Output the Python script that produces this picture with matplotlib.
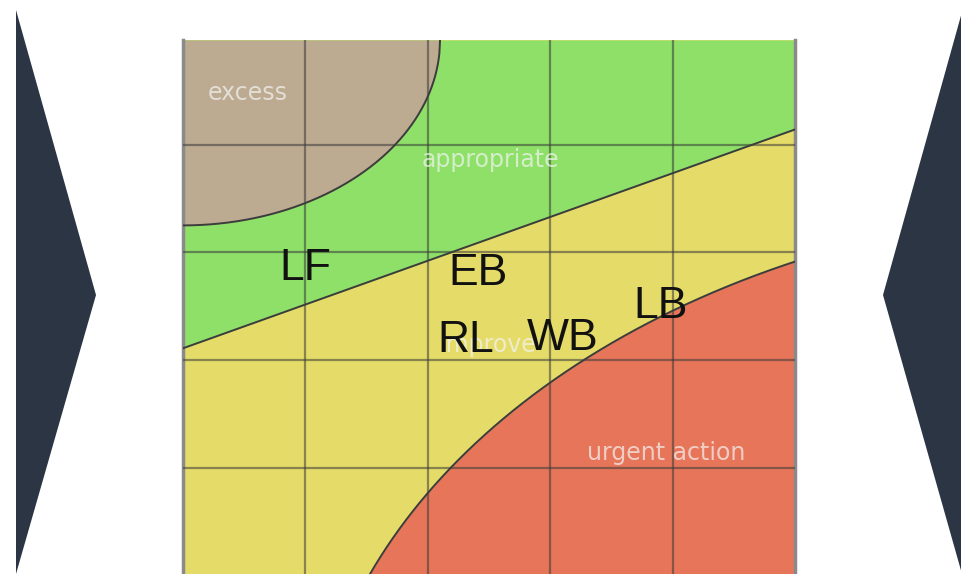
import numpy as np
import matplotlib
matplotlib.use("Agg")
import matplotlib.pyplot as plt
from matplotlib.patches import Polygon

# ---- data ----
grid_ticks = [1, 2, 3, 4]
# green/yellow boundary: straight line (x, y)
line_x = [0.0, 5.0]
line_y = [2.11, 4.14]
# brown "excess" region: quarter ellipse (centre, semi-axes)
excess_center = (0.0, 4.97)
excess_axes = (2.10, 1.72)
# red "urgent action" region: ellipse arc (centre, semi-axes)
urgent_center = (8.0, -2.0)
urgent_axes = (6.967, 5.445)

zone_names = ["excess", "appropriate", "improve", "urgent action"]
zone_x = [0.53, 2.51, 2.49, 3.95]
zone_y = [4.48, 3.86, 2.14, 1.14]

labels = ["LF", "EB", "RL", "WB", "LB"]
label_x = [0.997, 2.41, 2.31, 3.10, 3.90]
label_y = [2.85, 2.80, 2.18, 2.20, 2.50]

# ---- styles ----
C_BROWN = "#BCAA91"
C_GREEN = "#8EE068"
C_YELLOW = "#E5DB68"
C_RED = "#E67559"
C_NAVY = "#2B3544"

W, H = 962, 574
fig = plt.figure(figsize=(W / 100, H / 100), dpi=100)
fig.patch.set_facecolor("white")

# decorative chevrons
left_chev = Polygon([(16 / W, 1 - 10 / H), (96 / W, 1 - 295 / H), (16 / W, 0)],
                    closed=True, transform=fig.transFigure, color=C_NAVY, lw=0)
right_chev = Polygon([(1, 1 - 12 / H), (883 / W, 1 - 295 / H), (1, 0)],
                     closed=True, transform=fig.transFigure, color=C_NAVY, lw=0)
fig.patches.extend([left_chev, right_chev])

ax = fig.add_axes([183 / W, 0, (795 - 183) / W, (574 - 40) / H])
xmin, xmax = 0.0, 5.0
ymin, ymax = 0.016, 4.97
ax.set_xlim(xmin, xmax)
ax.set_ylim(ymin, ymax)
ax.set_facecolor(C_YELLOW)

xs = np.linspace(xmin, xmax, 800)

# green region above the line
ly = np.interp(xs, line_x, line_y)
ax.fill_between(xs, ly, ymax, color=C_GREEN, lw=0, zorder=1)

# brown ellipse
ecx, ecy = excess_center
ea, eb = excess_axes
xe = np.linspace(ecx, ecx + ea, 400)
ye = ecy - eb * np.sqrt(np.clip(1 - ((xe - ecx) / ea) ** 2, 0, None))
ax.fill_between(xe, ye, ymax, color=C_BROWN, lw=0, zorder=2)

# red region
ucx, ucy = urgent_center
ua, ub = urgent_axes
xu = np.linspace(max(xmin, ucx - ua), xmax, 600)
yu = ucy + ub * np.sqrt(np.clip(1 - ((xu - ucx) / ua) ** 2, 0, None))
ax.fill_between(xu, ymin - 1, yu, color=C_RED, lw=0, zorder=2)

# grid
for t in grid_ticks:
    ax.axvline(t, color="#3a3a3a", alpha=0.55, lw=1.6, zorder=3)
    ax.axhline(t, color="#3a3a3a", alpha=0.55, lw=1.6, zorder=3)

# boundaries
ax.plot(xs, ly, color="#3c3c3c", lw=1.4, zorder=4)
ax.plot(xe, ye, color="#3c3c3c", lw=1.4, zorder=4)
ax.plot(xu, yu, color="#3c3c3c", lw=1.4, zorder=4)

# zone names
for name, x, y in zip(zone_names, zone_x, zone_y):
    ax.text(x, y, name, ha="center", va="center", fontsize=17,
            family="DejaVu Sans", color="#f4f4f4", alpha=0.7, zorder=5)

# codes
for name, x, y in zip(labels, label_x, label_y):
    ax.text(x, y, name, ha="center", va="center", fontsize=32,
            family="Liberation Sans", color="#111111", zorder=6)

ax.set_xticks([])
ax.set_yticks([])
for side in ["top", "bottom"]:
    ax.spines[side].set_visible(False)
for side in ["left", "right"]:
    ax.spines[side].set_color("#8a8a8a")
    ax.spines[side].set_linewidth(2.5)

fig.savefig("out.png", dpi=100, facecolor="white")
